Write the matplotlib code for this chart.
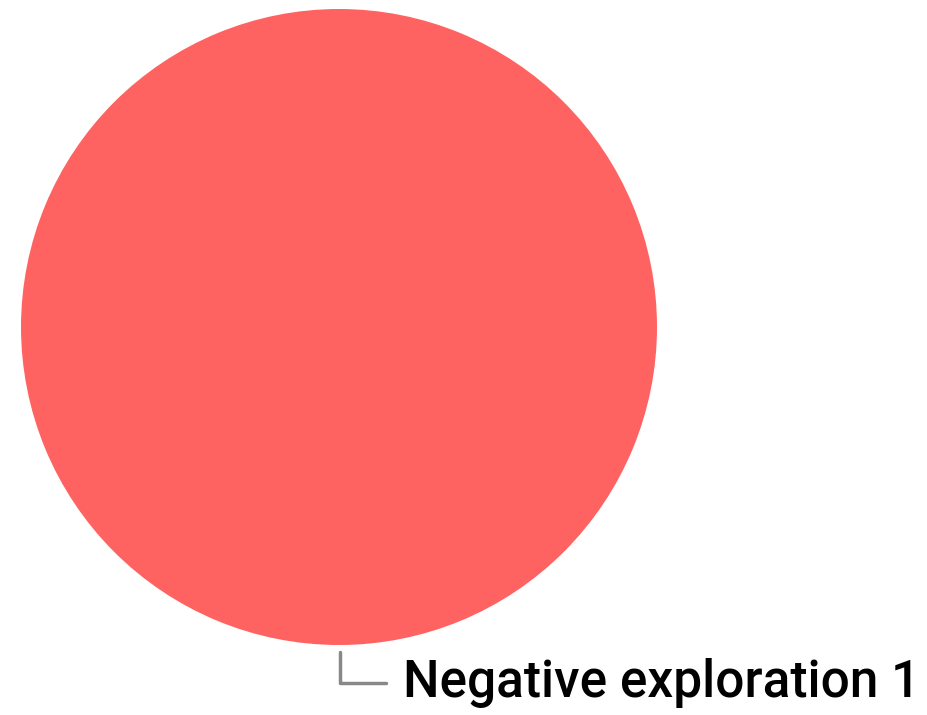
import matplotlib
matplotlib.use("Agg")
from matplotlib import pyplot as plt

labels = ["Negative exploration 1"]
values = [1]
colors = ["#ff6361"]

fig = plt.figure(figsize=(9.28, 7.15), dpi=100)
ax = fig.add_axes([0, 0, 1, 1])

cx, cy, r = 339, 327, 318
ax.pie(values, colors=colors, center=(cx, cy), radius=r, startangle=90,
       wedgeprops=dict(linewidth=0), frame=True)
ax.set_xlim(0, 928)
ax.set_ylim(715, 0)
ax.set_aspect("equal")
ax.axis("off")

# label with elbow connector below the circle
ax.annotate(labels[0], xy=(cx + 1, cy + r + 7), xytext=(403, 683),
            ha="left", va="center", fontsize=37, family="Roboto",
            fontweight="medium", color="black",
            arrowprops=dict(arrowstyle="-", color="#888888", lw=2.5,
                            shrinkA=10, shrinkB=0,
                            connectionstyle="angle,angleA=0,angleB=90,rad=0"))

fig.savefig("out.png", dpi=100)
